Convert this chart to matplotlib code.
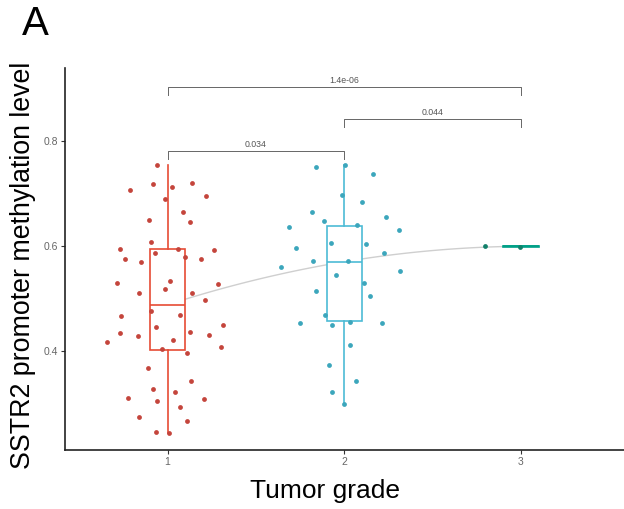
import numpy as np
import matplotlib
matplotlib.use("Agg")
import matplotlib.pyplot as plt

plt.rcParams['font.family'] = ['Liberation Sans', 'DejaVu Sans']

# grade 1 (jittered x offset, methylation level)
g1_dx = [-0.061, -0.083, 0.028, 0.136, -0.210, 0.219, -0.013, 0.085, -0.102, 0.125,
         -0.091, -0.270, 0.057, 0.262, -0.068, -0.238, 0.100, 0.187, -0.151, 0.015,
         -0.283, 0.287, -0.013, -0.163, 0.138, 0.210, -0.262, -0.091, 0.070, -0.064,
         -0.266, -0.166, 0.129, 0.232, 0.312, -0.340, 0.030, 0.302, -0.032, 0.113,
         -0.109, 0.134, -0.083, 0.040, -0.225, -0.061, 0.206, 0.072, -0.163, 0.108,
         -0.066, 0.006]
g1_val = [0.754, 0.719, 0.712, 0.720, 0.706, 0.695, 0.689, 0.664, 0.649, 0.646,
          0.607, 0.594, 0.594, 0.592, 0.587, 0.576, 0.579, 0.575, 0.570, 0.534,
          0.529, 0.528, 0.518, 0.510, 0.511, 0.498, 0.467, 0.476, 0.468, 0.446,
          0.435, 0.428, 0.437, 0.431, 0.449, 0.417, 0.421, 0.408, 0.404, 0.397,
          0.368, 0.343, 0.327, 0.321, 0.311, 0.304, 0.309, 0.294, 0.275, 0.266,
          0.246, 0.243]

# grade 2
g2_dx = [-0.160, 0.004, 0.160, -0.010, 0.102, -0.180, -0.115, 0.236, -0.312, 0.070,
         0.312, -0.074, 0.123, -0.272, 0.223, -0.174, 0.023, -0.355, 0.316, -0.044,
         0.112, -0.159, 0.147, -0.106, -0.251, -0.072, 0.034, 0.211, 0.034, -0.087,
         0.068, -0.070, 0.000]
g2_val = [0.750, 0.754, 0.738, 0.697, 0.684, 0.664, 0.648, 0.655, 0.636, 0.640,
          0.630, 0.605, 0.604, 0.596, 0.587, 0.571, 0.571, 0.560, 0.552, 0.544,
          0.530, 0.514, 0.504, 0.469, 0.453, 0.450, 0.456, 0.453, 0.411, 0.373,
          0.343, 0.322, 0.299]

# grade 3
g3_dx = [-0.204, -0.006]
g3_val = [0.600, 0.599]

grades = [1, 2, 3]
box_q1 = [0.402, 0.457, 0.5990]
box_med = [0.488, 0.570, 0.5995]
box_q3 = [0.594, 0.639, 0.6000]
box_lo = [0.243, 0.299, 0.5990]
box_hi = [0.754, 0.754, 0.6000]

# comparisons: (left, right, height, label)
comparisons = [(1, 2, 0.780, "0.034"), (2, 3, 0.841, "0.044"), (1, 3, 0.902, "1.4e-06")]

line_cols = ["#E64B35", "#4DBBD5", "#00A087"]
pt_cols = ["#C4453C", "#3CA6BC", "#12806A"]

fig = plt.figure(figsize=(6.24, 5.09), dpi=100)
ax = fig.add_axes([65 / 624, 59 / 509, 562 / 624, 382 / 509])

# smooth trend through the medians
fit = np.polyfit(grades, box_med, 2)
xs = np.linspace(1, 3, 100)
ax.plot(xs, np.polyval(fit, xs), color="#CFCFCF", lw=1.0, zorder=1)

for i in range(3):
    c = line_cols[i]
    st = dict(med=box_med[i], q1=box_q1[i], q3=box_q3[i],
              whislo=box_lo[i], whishi=box_hi[i], fliers=[])
    ax.bxp([st], positions=[grades[i]], widths=0.2, showcaps=False,
           showfliers=False, patch_artist=True,
           boxprops=dict(facecolor="white", edgecolor=c, lw=1.2),
           whiskerprops=dict(color=c, lw=1.2),
           medianprops=dict(color=c, lw=1.2), manage_ticks=False, zorder=2)

for i, (dx, val) in enumerate([(g1_dx, g1_val), (g2_dx, g2_val), (g3_dx, g3_val)]):
    xpos = grades[i] + np.array(dx)
    ax.scatter(xpos, val, s=12, color=pt_cols[i], lw=0, zorder=3)

for a, b, h, lab in comparisons:
    ax.plot([a, a, b, b], [h - 0.015, h, h, h - 0.015], color="#666666", lw=0.7, zorder=3)
    ax.text((a + b) / 2, h + 0.004, lab, ha="center", va="bottom", fontsize=6.3,
            color="#555555")

ax.set_xlim(0.42, 3.6)
ax.set_ylim(0.2114, 0.939)
ax.set_xticks(grades)
ax.set_xticklabels(["1", "2", "3"])
ax.set_yticks([0.4, 0.6, 0.8])
ax.set_yticklabels(["0.4", "0.6", "0.8"])
ax.tick_params(axis="both", labelsize=7.5, labelcolor="#666666", color="#333333",
               length=3, width=0.8, pad=2)
for s in ["top", "right"]:
    ax.spines[s].set_visible(False)
for s in ["left", "bottom"]:
    ax.spines[s].set_color("#222222")
    ax.spines[s].set_linewidth(1.2)

fig.text(325 / 624, 1 - 491 / 509, "Tumor grade", ha="center", va="center", fontsize=19)
fig.text(23 / 624, 1 - 265 / 509, "SSTR2 promoter methylation level", ha="center",
         va="center", rotation=90, fontsize=19.3)
fig.text(22 / 624, 1 - 24 / 509, "A", ha="left", va="center", fontsize=29)

fig.savefig("out.png", dpi=100)
